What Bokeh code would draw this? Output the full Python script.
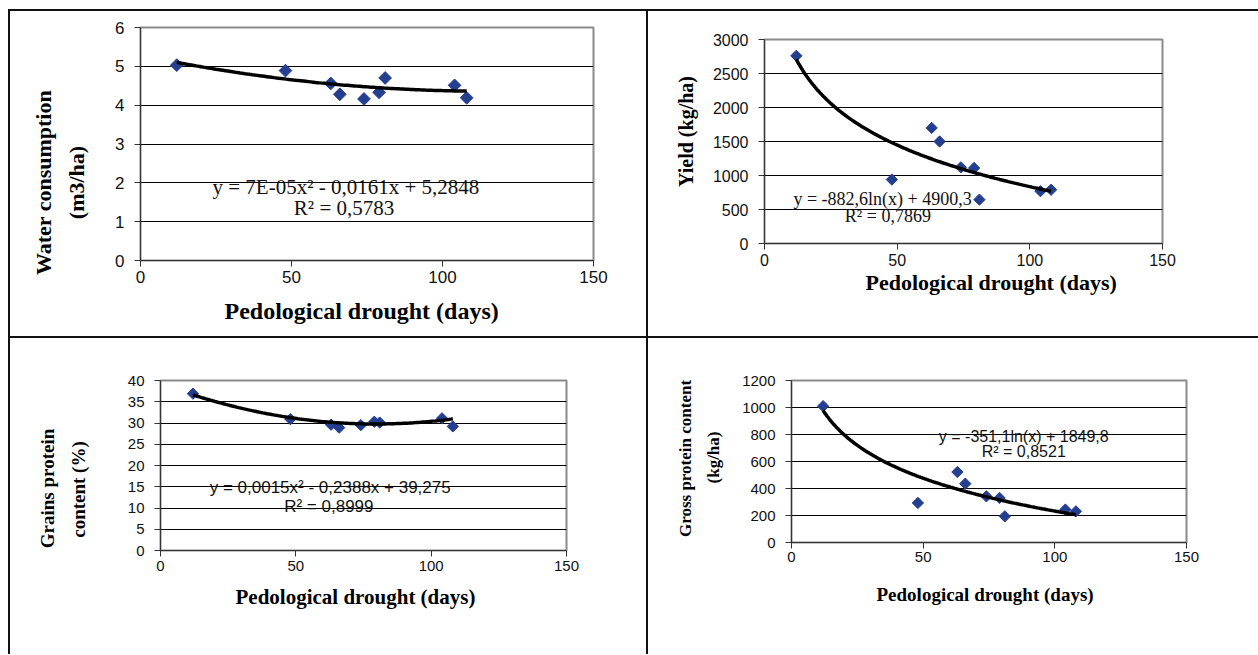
import math
import numpy as np
from bokeh.plotting import figure
from bokeh.models import Range1d, FixedTicker, Label, Div, Spacer, Title
from bokeh.core.properties import value
from bokeh.layouts import column, row
from bokeh.embed import file_html
from bokeh.resources import INLINE

# ---------------- data ----------------
drought_days = [12, 48, 63, 66, 74, 79, 81, 104, 108]
water_consumption = [5.03, 4.89, 4.56, 4.28, 4.16, 4.33, 4.70, 4.51, 4.19]
yield_kg_ha = [2760, 940, 1700, 1500, 1120, 1110, 645, 770, 790]
grain_protein_pct = [36.9, 30.9, 29.6, 28.9, 29.5, 30.3, 30.1, 31.1, 29.2]
gross_protein_kg_ha = [1010, 293, 522, 436, 342, 330, 194, 244, 231]

# trend-line coefficients as printed on the chart
water_trend_poly = [7e-05, -0.0161, 5.2848]
yield_trend_log = [-882.6, 4900.3]
grain_trend_poly = [0.0015, -0.2388, 39.275]
gross_trend_log = [-351.1, 1849.8]

x_ticks = [0, 50, 100, 150]
water_ticks = [0, 1, 2, 3, 4, 5, 6]
yield_ticks = [0, 500, 1000, 1500, 2000, 2500, 3000]
grain_ticks = [0, 5, 10, 15, 20, 25, 30, 35, 40]
gross_ticks = [0, 200, 400, 600, 800, 1000, 1200]

x_title = "Pedological drought (days)"
water_title = ["Water consumption", "(m3/ha)"]
yield_title = ["Yield (kg/ha)"]
grain_title = ["Grains protein", "content (%)"]
gross_title = ["Gross protein content", "(kg/ha)"]

water_eq = ["y = 7E-05x\u00b2 - 0,0161x + 5,2848", "R\u00b2 = 0,5783"]
yield_eq = ["y = -882,6ln(x) + 4900,3", "R\u00b2 = 0,7869"]
grain_eq = ["y = 0,0015x\u00b2 - 0,2388x + 39,275", "R\u00b2 = 0,8999"]
gross_eq = ["y = -351,1ln(x) + 1849,8", "R\u00b2 = 0,8521"]

SANS = "Liberation Sans"
SERIF = "Liberation Serif"
MARKER = "#243F8F"
BORDER = "#111111"


def no_align(p):
    try:
        p.frame_align = False
    except Exception:
        pass


def trend_curve(kind, coefs):
    tx = np.linspace(min(drought_days), max(drought_days), 120)
    if kind == "poly":
        ty = np.polyval(coefs, tx)
    else:
        ty = coefs[0] * np.log(tx) + coefs[1]
    return tx, ty


def title_strip(w, h, lines, centers, size):
    """Narrow figure holding the rotated (vertical) y-axis title lines."""
    t = figure(width=w, height=h, output_backend="svg", toolbar_location=None,
               x_range=Range1d(0, w), y_range=Range1d(0, h),
               x_axis_type=None, y_axis_type=None, min_border=0,
               background_fill_color="white", border_fill_color="white")
    no_align(t)
    t.outline_line_color = None
    t.text(x=[c[0] for c in centers], y=[h - c[1] for c in centers], text=lines,
           angle=math.pi / 2, text_font=value(SERIF), text_font_style=value("bold"),
           text_font_size=value(f"{size}px"), text_align=value("center"),
           text_baseline=value("middle"), text_color="black")
    return t


def make_panel(w, h, borders, y_ticks, ys, trend, xtitle_cfg, xtitle_size, tick_size,
               eq_lines, eq_pos, eq_font, eq_size, marker_size, x_standoff):
    left, right, top, bottom = borders
    p = figure(width=w, height=h, output_backend="svg", toolbar_location=None,
               x_range=Range1d(0, 150), y_range=Range1d(0, y_ticks[-1]),
               min_border_left=left, min_border_right=right,
               min_border_top=top, min_border_bottom=bottom,
               background_fill_color="white", border_fill_color="white")
    no_align(p)
    p.outline_line_color = "#8a8a8a"
    p.outline_line_width = 2
    p.xgrid.visible = False
    p.ygrid.grid_line_color = "#000000"
    p.ygrid.grid_line_width = 1
    p.xaxis.ticker = FixedTicker(ticks=x_ticks)
    p.yaxis.ticker = FixedTicker(ticks=y_ticks)
    for ax in (p.xaxis[0], p.yaxis[0]):
        ax.axis_line_color = "#333333"
        ax.axis_line_width = 1
        ax.major_tick_line_color = "#333333"
        ax.major_tick_out = 6
        ax.major_tick_in = 0
        ax.minor_tick_line_color = None
        ax.major_label_text_font = SANS
        ax.major_label_text_font_size = f"{tick_size}px"
        ax.major_label_text_color = "#111111"
    p.yaxis.major_label_standoff = 10
    p.xaxis.major_label_standoff = x_standoff

    p.scatter(drought_days, ys, marker="square", angle=math.pi / 4, size=marker_size,
              fill_color=MARKER, line_color=MARKER)
    tx, ty = trend
    p.line(tx, ty, line_color="black", line_width=3.5)

    standoff, offset = xtitle_cfg
    p.add_layout(Title(text=x_title, align="left", vertical_align="middle",
                       standoff=standoff, offset=offset,
                       text_font=SERIF, text_font_style="bold",
                       text_font_size=f"{xtitle_size}px", text_color="black"), "below")
    # trend equation
    for txt, (dx, dy) in zip(eq_lines, eq_pos):
        p.add_layout(Label(x=dx, y=dy, text=txt, text_align="center", text_baseline="middle",
                           text_font=eq_font, text_font_size=f"{eq_size}px",
                           text_color="#111111"))
    return p


H1, H2 = 325, 316
W1, W2 = 636, 610
T1, T2, T3, T4 = 100, 60, 112, 87     # widths of the y-title strips

t1 = title_strip(T1, H1, water_title, [(32.9, 171), (65.5, 171)], 22)
p1 = make_panel(W1 - T1, H1, (30, 53, 16, 76), water_ticks, water_consumption,
                trend_curve("poly", water_trend_poly),
                (23, 84), 24, 17,
                water_eq, [(68, 1.88), (67.4, 1.36)], SERIF, 21, 9, 4)

t2 = title_strip(T2, H1, yield_title, [(37.3, 120)], 20)
p2 = make_panel(W2 - T2, H1, (56, 96, 28, 93), yield_ticks, yield_kg_ha,
                trend_curve("log", yield_trend_log),
                (0, 101), 22, 16,
                yield_eq, [(44.5, 659), (46.5, 409)], SERIF, 18, 8, 4)

t3 = title_strip(T3, H2, grain_title, [(37, 150), (67.6, 151)], 19)
p3 = make_panel(W1 - T3, H2, (38, 80, 42, 104), grain_ticks, grain_protein_pct,
                trend_curve("poly", grain_trend_poly),
                (21, 75), 21, 15,
                grain_eq, [(62.7, 14.8), (62.2, 10.35)], SANS, 17, 8, 4)

t4 = title_strip(T4, H2, gross_title, [(37.3, 120), (65, 119)], 17)
p4 = make_panel(W2 - T4, H2, (56, 72, 42, 112), gross_ticks, gross_protein_kg_ha,
                trend_curve("log", gross_trend_log),
                (37, 85), 19, 15,
                gross_eq, [(88.2, 787), (88.2, 676)], SANS, 16, 8, 3)


def bar(w, h):
    return Div(text="", width=w, height=h, margin=0,
               styles={"background-color": BORDER})


total_w = 2 + W1 + 2 + W2
table = column(
    bar(total_w, 2),
    row(bar(2, H1), t1, p1, bar(2, H1), t2, p2, spacing=0),
    bar(total_w, 2),
    row(bar(2, H2), t3, p3, bar(2, H2), t4, p4, spacing=0),
    spacing=0,
)
root = column(Spacer(width=8, height=9),
              row(Spacer(width=8, height=10), table, spacing=0),
              spacing=0)

open("out.html", "w").write(file_html(root, INLINE))
